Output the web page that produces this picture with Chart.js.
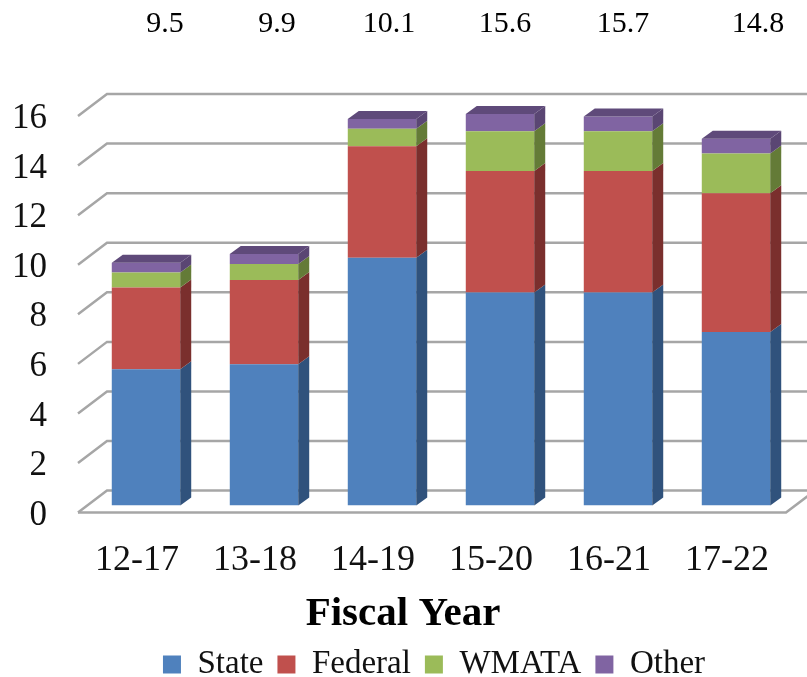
<!DOCTYPE html>
<html>
<head>
<meta charset="utf-8">
<script src="https://cdn.jsdelivr.net/npm/chart.js@4"></script>
<style>
  body { margin: 0; background: #fff; }
  canvas { display: block; }
</style>
</head>
<body>
<canvas id="chart" width="807" height="677"></canvas>
<script>
// Data
const categories = ["12-17", "13-18", "14-19", "15-20", "16-21", "17-22"];
const stateValues = [5.5, 5.7, 10, 8.6, 8.6, 7];
const federalValues = [3.3, 3.4, 4.5, 4.9, 4.9, 5.6];
const wmataValues = [0.6, 0.65, 0.7, 1.6, 1.6, 1.6];
const otherValues = [0.4, 0.4, 0.4, 0.7, 0.6, 0.6];
const totalLabels = ["9.5", "9.9", "10.1", "15.6", "15.7", "14.8"];

// Look of the 3D effect
const FONT = "'Liberation Serif', serif";
const faceColors = ["#4F81BD", "#C0504D", "#9BBB59", "#8064A2"];
const sideColors = ["#30527C", "#7A2F2D", "#647B37", "#5A4673"];
const topColor = "#5F4A7A";
const GRID = "#A6A6A6";
const barShift = { x: 9, y: -10 };  // bars stand behind the tick plane
const floorDrop = -3;               // front edge of the floor relative to the tick plane
const barDepth = { x: 11, y: 8 };
const wallDepth = { x: 29, y: -22 };
const totalNudge = [19, 13, 7, 5, 5, 22];  // totals row isn't lined up with the bars

const box3d = {
    id: "box3d",
    afterLayout(chart) {
        // legend and title sit off centre in the original
        chart.legend.left += 41;
        chart.legend.right += 41;
        chart.titleBlock.left += 10;
        chart.titleBlock.right += 10;
    },
    beforeDatasetsDraw(chart) {
        const { ctx, chartArea, scales } = chart;
        // gridlines: short diagonal on the side wall, long line on the back wall
        ctx.save();
        ctx.strokeStyle = GRID;
        ctx.lineWidth = 2.5;
        scales.y.ticks.forEach((t) => {
            const y = scales.y.getPixelForValue(t.value) + floorDrop;
            ctx.beginPath();
            ctx.moveTo(chartArea.left, y);
            ctx.lineTo(chartArea.left + wallDepth.x, y + wallDepth.y);
            ctx.lineTo(chart.width, y + wallDepth.y);
            ctx.stroke();
        });
        // floor front edge
        const y0 = scales.y.getPixelForValue(0) + floorDrop;
        ctx.beginPath();
        ctx.moveTo(chartArea.left, y0);
        ctx.lineTo(chartArea.right, y0);
        ctx.lineTo(chartArea.right + wallDepth.x, y0 + wallDepth.y);
        ctx.stroke();
        ctx.restore();
        ctx.save();
        ctx.translate(barShift.x, barShift.y);
    },
    afterDatasetsDraw(chart) {
        const { ctx } = chart;
        const last = chart.data.datasets.length - 1;
        chart.data.datasets.forEach((ds, i) => {
            chart.getDatasetMeta(i).data.forEach((bar) => {
                const left = bar.x - bar.width / 2;
                const right = bar.x + bar.width / 2;
                ctx.fillStyle = sideColors[i];
                ctx.beginPath();
                ctx.moveTo(right, bar.y);
                ctx.lineTo(right + barDepth.x, bar.y - barDepth.y);
                ctx.lineTo(right + barDepth.x, bar.base - barDepth.y);
                ctx.lineTo(right, bar.base);
                ctx.closePath();
                ctx.fill();
                if (i === last) {
                    ctx.fillStyle = topColor;
                    ctx.beginPath();
                    ctx.moveTo(left, bar.y);
                    ctx.lineTo(left + barDepth.x, bar.y - barDepth.y);
                    ctx.lineTo(right + barDepth.x, bar.y - barDepth.y);
                    ctx.lineTo(right, bar.y);
                    ctx.closePath();
                    ctx.fill();
                }
            });
        });
        ctx.restore();
    },
    afterDraw(chart) {
        // row of totals above the plot
        const { ctx, scales } = chart;
        ctx.save();
        ctx.font = "30px " + FONT;
        ctx.fillStyle = "#000";
        ctx.textAlign = "center";
        ctx.textBaseline = "middle";
        totalLabels.forEach((label, i) => {
            ctx.fillText(label, scales.x.getPixelForValue(i) + barShift.x + totalNudge[i], 24);
        });
        ctx.restore();
    },
};

new Chart(document.getElementById("chart"), {
    type: "bar",
    data: {
        labels: categories,
        datasets: [
            { label: "State", data: stateValues, backgroundColor: faceColors[0] },
            { label: "Federal", data: federalValues, backgroundColor: faceColors[1] },
            { label: "WMATA", data: wmataValues, backgroundColor: faceColors[2] },
            { label: "Other", data: otherValues, backgroundColor: faceColors[3] },
        ],
    },
    options: {
        responsive: false,
        animation: false,
        layout: { padding: { top: 119, right: 21, bottom: -14, left: 0 } },
        datasets: { bar: { categoryPercentage: 0.58, barPercentage: 1 } },
        scales: {
            x: {
                stacked: true,
                afterFit(scale) { scale.height -= 22; },
                grid: { display: false },
                border: { display: false },
                ticks: { color: "#111", font: { family: FONT, size: 36 }, padding: 15 },
            },
            y: {
                stacked: true,
                min: 0,
                max: 16,
                afterFit(scale) { scale.width = 78; },
                grid: { display: false },
                border: { display: false },
                ticks: { stepSize: 2, color: "#111", font: { family: FONT, size: 35 }, padding: 23 },
            },
        },
        plugins: {
            title: {
                display: true,
                position: "bottom",
                weight: 500,
                text: "Fiscal Year",
                color: "#000",
                font: { family: FONT, size: 41, weight: "bold" },
                padding: { top: 15, bottom: -5 },
            },
            legend: {
                position: "bottom",
                labels: {
                    color: "#111",
                    font: { family: FONT, size: 33 },
                    boxWidth: 18,
                    boxHeight: 18,
                    padding: 14,
                },
            },
            tooltip: { enabled: false },
        },
    },
    plugins: [box3d],
});
</script>
</body>
</html>
